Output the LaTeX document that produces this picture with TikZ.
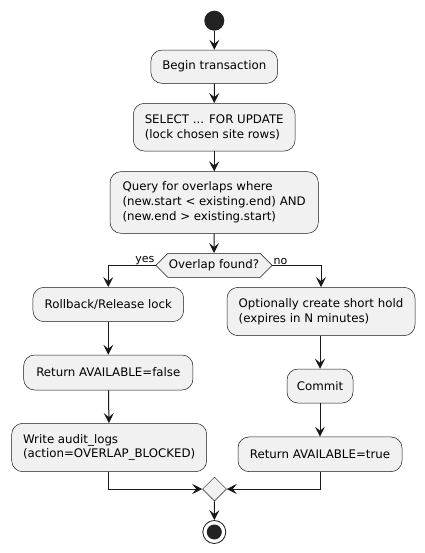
\documentclass[tikz,border=0pt]{standalone}
\usepackage{fontspec}
\setmainfont{DejaVu Sans}
\usetikzlibrary{arrows.meta,shapes.geometric,shapes.symbols}
\definecolor{boxfill}{HTML}{F1F1F1}
\definecolor{ink}{HTML}{181818}
\definecolor{dot}{HTML}{222222}
\begin{document}
\begin{tikzpicture}[x=1pt,y=-1pt,
  every node/.style={font=\fontsize{11.8}{14.8}\selectfont, text=black},
  act/.style={draw=ink, line width=0.5pt, fill=boxfill, rounded corners=11pt,
    align=left, inner xsep=0pt, inner ysep=0pt},
  flow/.style={draw=ink, line width=1pt, -{Stealth[length=10pt,width=10pt,inset=4pt]}},
  lbl/.style={font=\fontsize{11}{13}\selectfont, inner sep=1pt}
]
\useasboundingbox (0,0) rectangle (424,553);

\node[circle, fill=dot, minimum size=20pt, inner sep=0pt] (start) at (214.3,20.7) {};

\node[act, minimum width=126.7pt, minimum height=33.3pt] (begin) at (214.3,66.7) {Begin transaction};
\node[act, minimum width=161.7pt, minimum height=47.7pt] (select) at (214.2,127.2)
  {SELECT ... FOR UPDATE\\(lock chosen site rows)};
\node[act, minimum width=208.3pt, minimum height=61.7pt] (query) at (214.2,202.5)
  {Query for overlaps where\\(new.start < existing.end) AND\\(new.end > existing.start)};

\node[signal, signal to=west and east, signal pointer angle=90, draw=ink, line width=0.5pt,
  fill=boxfill, minimum height=24pt, inner xsep=1pt, inner ysep=0pt] (hex) at (214,265.3) {Overlap found?};

\node[act, minimum width=150.7pt, minimum height=34.3pt] (rollback) at (108.3,304.5) {Rollback/Release lock};
\node[act, minimum width=169.3pt, minimum height=35pt] (retfalse) at (108.3,372.5) {Return AVAILABLE=false};
\node[act, minimum width=195pt, minimum height=48.3pt] (audit) at (109.2,447.5)
  {Write audit\_logs\\(action=OVERLAP\_BLOCKED)};

\node[act, minimum width=188pt, minimum height=48.3pt] (hold) at (321,311.5)
  {Optionally create short hold\\(expires in N minutes)};
\node[act, minimum width=66pt, minimum height=34pt] (commit) at (320,386) {Commit};
\node[act, minimum width=164pt, minimum height=34.7pt] (rettrue) at (320,454.3) {Return AVAILABLE=true};

\node[diamond, draw=ink, line width=0.5pt, fill=boxfill, minimum size=24pt, inner sep=0pt, aspect=1] (merge) at (214.5,489) {};

\node[circle, draw=ink, line width=0.8pt, fill=white, minimum size=23pt, inner sep=0pt] (stop) at (214.3,532) {};
\node[circle, fill=dot, minimum size=15pt, inner sep=0pt] (stopdot) at (stop.center) {};

\draw[flow] (start) -- (begin);
\draw[flow] (begin) -- (select);
\draw[flow] (select) -- (query);
\draw[flow] (query) -- (hex);
\draw[flow] (hex.west) -| (rollback.north);
\draw[flow] (hex.east) -| (hold.north);
\draw[flow] (rollback) -- (retfalse);
\draw[flow] (retfalse) -- (audit);
\draw[flow] (hold.south -| commit.north) -- (commit);
\draw[flow] (commit) -- (rettrue);
\draw[flow] (audit.south -| rollback.south) |- (merge.west);
\draw[flow] (rettrue.south) |- (merge.east);
\draw[flow] (merge.south) -- (stop.north);

\node[lbl, anchor=south east] (yes) at ([yshift=-1pt]hex.west) {yes};
\node[lbl, anchor=south west] (no) at ([yshift=-1pt]hex.east) {no};
\end{tikzpicture}
\end{document}
